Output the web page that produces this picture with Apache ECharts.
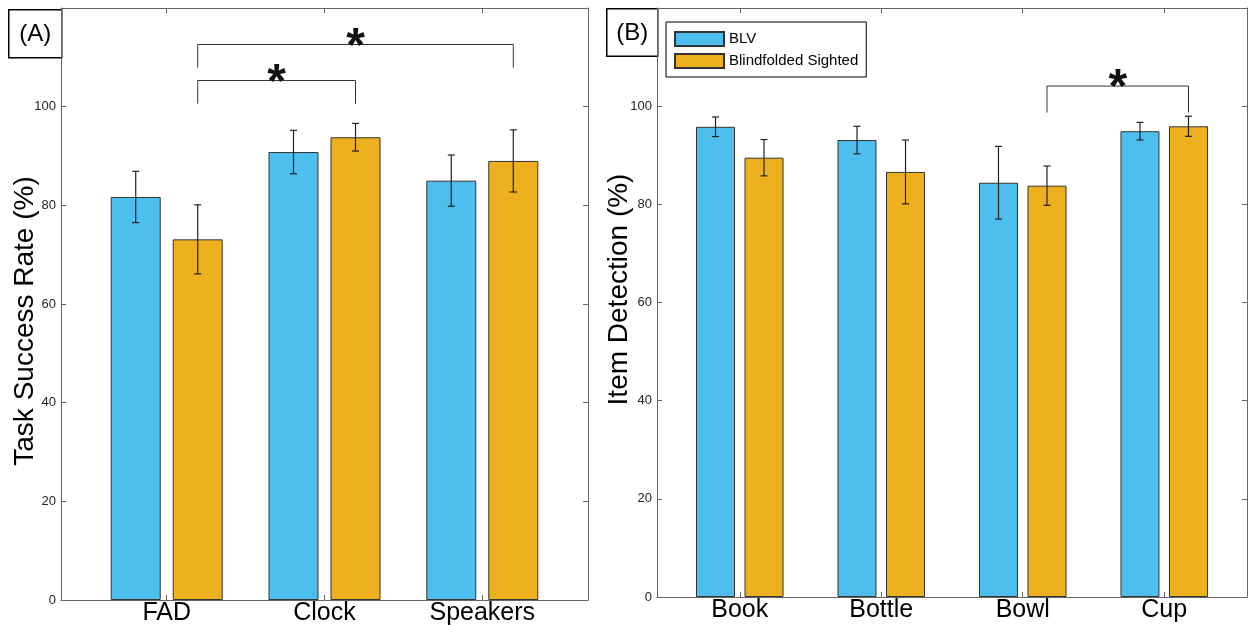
<!DOCTYPE html>
<html><head><meta charset="utf-8">
<script src="https://cdn.jsdelivr.net/npm/echarts@6/dist/echarts.min.js"></script>
<style>html,body{margin:0;padding:0;background:#fff}#c{width:1252px;height:626px}</style>
</head><body><div id="c"></div>
<script>
// ---------- data ----------
const seriesNames = ['BLV', 'Blindfolded Sighted'];
const taskCategories = ['FAD', 'Clock', 'Speakers'];
const taskBLV = [81.7, 90.8, 85.0];
const taskBLVErr = [5.2, 4.4, 5.2];
const taskSighted = [73.1, 93.8, 89.0];
const taskSightedErr = [7.0, 2.8, 6.3];
const itemCategories = ['Book', 'Bottle', 'Bowl', 'Cup'];
const itemBLV = [95.8, 93.1, 84.4, 94.9];
const itemBLVErr = [2.0, 2.8, 7.4, 1.8];
const itemSighted = [89.5, 86.6, 83.8, 95.9];
const itemSightedErr = [3.7, 6.5, 4.0, 2.05];
const yTicks = [0, 20, 40, 60, 80, 100, 120];
// significance brackets: [category A, series A, category B, series B, bracket level, leg end]
const taskSig = [[1, 1, 2, 1, 105.3, 100.6], [1, 1, 3, 1, 112.6, 107.9]];
const itemSig = [[3, 1, 4, 1, 104.1, 98.7]];

// ---------- styles ----------
const FONT = '"Liberation Sans", Arial, Helvetica, sans-serif';
const BLUE = '#4DBEEE', ORANGE = '#EDB120';
const FRAME = '#666';
const L = {barW: 50, gap: 12}, R = {barW: 39, gap: 9.5};

function errData(a, ae, b, be) {
  const d = [];
  a.forEach((v, i) => d.push([i + 1, 0, v, ae[i]]));
  b.forEach((v, i) => d.push([i + 1, 1, v, be[i]]));
  return d;
}
function errRender(cfg) {
  return function (params, api) {
    const x = api.value(0), s = api.value(1), v = api.value(2), e = api.value(3);
    const off = (s - 0.5) * (cfg.barW + cfg.gap);
    const t = api.coord([x, v + e]), b = api.coord([x, v - e]);
    const cx = t[0] + off, cap = 3.5;
    const st = {stroke: '#222', lineWidth: 1.2};
    return {type: 'group', children: [
      {type: 'line', shape: {x1: cx, y1: t[1], x2: cx, y2: b[1]}, style: st},
      {type: 'line', shape: {x1: cx - cap, y1: t[1], x2: cx + cap, y2: t[1]}, style: st},
      {type: 'line', shape: {x1: cx - cap, y1: b[1], x2: cx + cap, y2: b[1]}, style: st}
    ]};
  };
}
function sigRender(cfg) {
  return function (params, api) {
    const xa = api.value(0), sa = api.value(1), xb = api.value(2), sb = api.value(3);
    const top = api.value(4), leg = api.value(5);
    const pA = api.coord([xa, leg]), pB = api.coord([xb, leg]), t = api.coord([xa, top]);
    const ax = pA[0] + (sa - 0.5) * (cfg.barW + cfg.gap);
    const bx = pB[0] + (sb - 0.5) * (cfg.barW + cfg.gap);
    return {type: 'group', children: [
      {type: 'polyline', shape: {points: [[ax, pA[1]], [ax, t[1]], [bx, t[1]], [bx, pB[1]]]},
       style: {stroke: '#333', lineWidth: 1, fill: null}},
      {type: 'text', style: {text: '*', x: (ax + bx) / 2, y: t[1] + 3, align: 'center', verticalAlign: 'middle',
       font: 'bold 48px ' + FONT, fill: '#111'}}
    ]};
  };
}

function xAxes(gridIndex, cats, min, max) {
  const vals = cats.map((c, i) => i + 1);
  return [
    {type: 'value', gridIndex, position: 'bottom', min, max,
     axisLine: {show: true, lineStyle: {color: FRAME, width: 1}},
     axisTick: {show: true, inside: true, length: 5, customValues: vals, lineStyle: {color: FRAME}},
     axisLabel: {show: true, customValues: vals, formatter: v => cats[Math.round(v) - 1] || '',
                 fontSize: 25, color: '#000', fontFamily: FONT, margin: 1},
     splitLine: {show: false}},
    {type: 'value', gridIndex, position: 'top', min, max,
     axisLine: {show: true, onZero: false, lineStyle: {color: FRAME, width: 1}},
     axisTick: {show: true, inside: true, length: 5, customValues: vals, lineStyle: {color: FRAME}},
     axisLabel: {show: false}, splitLine: {show: false}}
  ];
}
function yAxes(gridIndex, name, nameGap, padding) {
  return [
    {type: 'value', gridIndex, position: 'left', min: 0, max: 120, interval: 20,
     name, nameLocation: 'middle', nameGap, nameMoveOverlap: false,
     nameTextStyle: {fontSize: 28, color: '#000', fontFamily: FONT, padding},
     axisLine: {show: true, lineStyle: {color: FRAME, width: 1}},
     axisTick: {show: true, inside: true, length: 5, lineStyle: {color: FRAME}},
     axisLabel: {formatter: v => (yTicks.indexOf(v) >= 0 && v < 120 ? String(v) : ''),
                 fontSize: 13, color: '#262626', fontFamily: FONT, margin: 5},
     splitLine: {show: false}},
    {type: 'value', gridIndex, position: 'right', min: 0, max: 120, interval: 20,
     axisLine: {show: true, lineStyle: {color: FRAME, width: 1}},
     axisTick: {show: true, inside: true, length: 5, lineStyle: {color: FRAME}},
     axisLabel: {show: false}, splitLine: {show: false}}
  ];
}
function bars(name, vals, color, xi, yi, cfg) {
  return {type: 'bar', name, xAxisIndex: xi, yAxisIndex: yi, barWidth: cfg.barW,
          barGap: (cfg.gap / cfg.barW * 100).toFixed(1) + '%',
          data: vals.map((v, i) => [i + 1, v]),
          itemStyle: {color, borderColor: '#333', borderWidth: 1}, z: 2, silent: true};
}

const chart = echarts.init(document.getElementById('c'), null, {renderer: 'canvas'});
chart.setOption({
  animation: false,
  backgroundColor: '#fff',
  textStyle: {fontFamily: FONT},
  grid: [
    {left: 61, top: 8, width: 527, height: 592},
    {left: 657, top: 8, width: 590, height: 589}
  ],
  xAxis: [...xAxes(0, taskCategories, 0.33, 3.67), ...xAxes(1, itemCategories, 0.415, 4.585)],
  yAxis: [...yAxes(0, 'Task Success Rate (%)', 22, [0, 34, 0, 0]),
          ...yAxes(1, 'Item Detection (%)', 24, [0, 0, 0, 26])],
  legend: {
    data: seriesNames, orient: 'vertical', left: 666, top: 22,
    itemWidth: 49, itemHeight: 14, itemGap: 6, padding: [9, 8, 8, 8],
    borderColor: '#000', borderWidth: 1, borderRadius: 0, backgroundColor: '#fff',
    icon: 'rect', textStyle: {fontSize: 15, color: '#000', fontFamily: FONT}, selectedMode: false
  },
  series: [
    bars(seriesNames[0], taskBLV, BLUE, 0, 0, L),
    bars(seriesNames[1], taskSighted, ORANGE, 0, 0, L),
    bars(seriesNames[0], itemBLV, BLUE, 2, 2, R),
    bars(seriesNames[1], itemSighted, ORANGE, 2, 2, R),
    {type: 'custom', name: 'errA', xAxisIndex: 0, yAxisIndex: 0, renderItem: errRender(L),
     data: errData(taskBLV, taskBLVErr, taskSighted, taskSightedErr), encode: {x: 0, y: 2}, z: 5, silent: true},
    {type: 'custom', name: 'errB', xAxisIndex: 2, yAxisIndex: 2, renderItem: errRender(R),
     data: errData(itemBLV, itemBLVErr, itemSighted, itemSightedErr), encode: {x: 0, y: 2}, z: 5, silent: true},
    {type: 'custom', name: 'sigA', xAxisIndex: 0, yAxisIndex: 0, renderItem: sigRender(L),
     data: taskSig, encode: {x: [0, 2], y: [4, 5]}, z: 5, silent: true, clip: false},
    {type: 'custom', name: 'sigB', xAxisIndex: 2, yAxisIndex: 2, renderItem: sigRender(R),
     data: itemSig, encode: {x: [0, 2], y: [4, 5]}, z: 5, silent: true, clip: false}
  ],
  graphic: [
    {type: 'group', left: 8, top: 9, children: [
      {type: 'rect', shape: {x: 0, y: 0, width: 53, height: 48}, style: {fill: '#fff', stroke: '#000', lineWidth: 1.5}},
      {type: 'text', style: {text: '(A)', x: 26.5, y: 25, align: 'center', verticalAlign: 'middle', font: '24px ' + FONT, fill: '#000'}}
    ]},
    {type: 'group', left: 606, top: 8, children: [
      {type: 'rect', shape: {x: 0, y: 0, width: 51, height: 47.5}, style: {fill: '#fff', stroke: '#000', lineWidth: 1.5}},
      {type: 'text', style: {text: '(B)', x: 25.5, y: 25, align: 'center', verticalAlign: 'middle', font: '24px ' + FONT, fill: '#000'}}
    ]}
  ]
});
</script>
</body></html>
